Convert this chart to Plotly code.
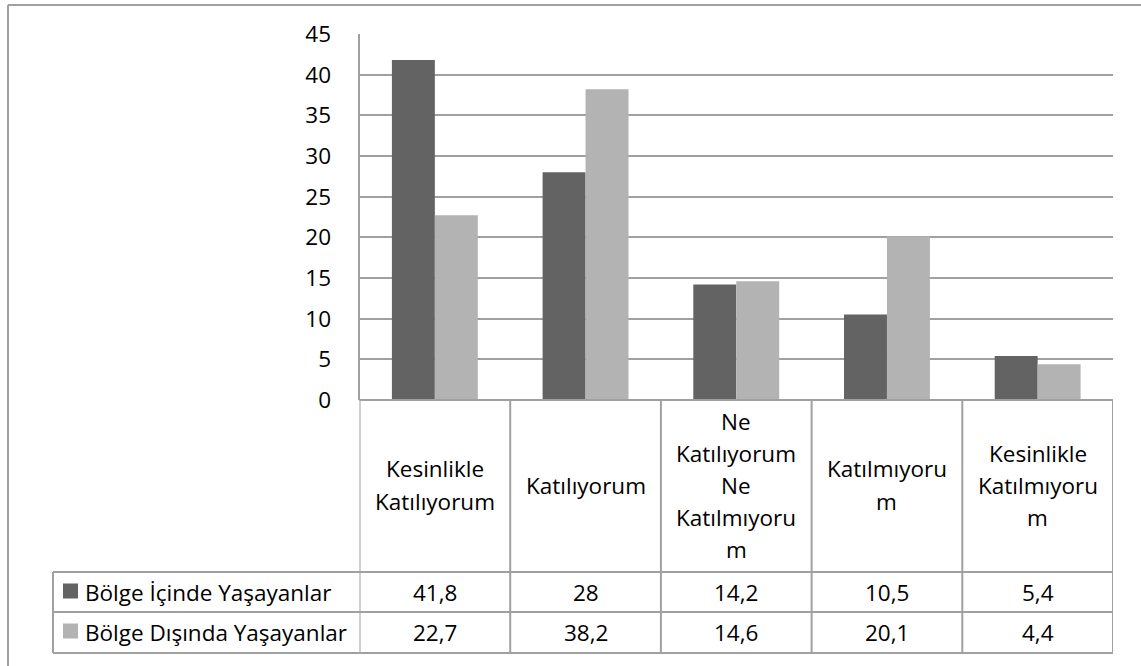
import plotly.graph_objects as go

# ---- data ----
categories = ["Kesinlikle Katılıyorum", "Katılıyorum", "Ne Katılıyorum Ne Katılmıyorum",
              "Katılmıyorum", "Kesinlikle Katılmıyorum"]
category_labels = ["Kesinlikle<br>Katılıyorum", "Katılıyorum",
                   "Ne<br>Katılıyorum<br>Ne<br>Katılmıyoru<br>m",
                   "Katılmıyoru<br>m", "Kesinlikle<br>Katılmıyoru<br>m"]
series_names = ["Bölge İçinde Yaşayanlar", "Bölge Dışında Yaşayanlar"]
inside_values = [41.8, 28, 14.2, 10.5, 5.4]
outside_values = [22.7, 38.2, 14.6, 20.1, 4.4]
inside_text = ["41,8", "28", "14,2", "10,5", "5,4"]
outside_text = ["22,7", "38,2", "14,6", "20,1", "4,4"]
y_ticks = [0, 5, 10, 15, 20, 25, 30, 35, 40, 45]

# ---- styling ----
W, H = 1141, 666
FONT = "Open Sans"
FS = 22.5
DARK = "#636363"
LIGHT = "#b3b3b3"
LINE = "#a0a0a0"


def px(x):
    return x / W


def py(y):
    return 1 - y / H


fig = go.Figure()
fig.add_trace(go.Bar(x=categories, y=inside_values, name=series_names[0],
                     marker=dict(color=DARK, line=dict(width=0)), hoverinfo="skip"))
fig.add_trace(go.Bar(x=categories, y=outside_values, name=series_names[1],
                     marker=dict(color=LIGHT, line=dict(width=0)), hoverinfo="skip"))

shapes = []


def hline(y, x0, x1):
    shapes.append(dict(type="line", xref="paper", yref="paper", x0=px(x0), x1=px(x1),
                       y0=py(y), y1=py(y), line=dict(color=LINE, width=2)))


# outer chart border (top and left)
shapes.append(dict(type="line", xref="paper", yref="paper", x0=px(8), x1=1.01,
                   y0=py(5), y1=py(5), line=dict(color=LINE, width=2)))
shapes.append(dict(type="line", xref="paper", yref="paper", x0=px(8), x1=px(8),
                   y0=py(5), y1=-0.01, line=dict(color=LINE, width=2)))

# table horizontal lines
hline(400, 359.5, 1113)
hline(572, 53, 1113)
hline(612, 53, 1113)
hline(653, 53, 1113)
# table vertical lines at category boundaries (axis coordinates)
for i in range(len(categories) + 1):
    shapes.append(dict(type="line", xref="x", yref="paper", x0=i - 0.5, x1=i - 0.5,
                       y0=py(400), y1=py(653), line=dict(color=LINE, width=2)))
# legend column left edge
shapes.append(dict(type="line", xref="paper", yref="paper", x0=px(53), x1=px(53),
                   y0=py(572), y1=py(653), line=dict(color=LINE, width=2)))
# legend keys
for yc, col in [(591, DARK), (631, LIGHT)]:
    shapes.append(dict(type="rect", xref="paper", yref="paper", x0=px(63), x1=px(78),
                       y0=py(yc - 7.5), y1=py(yc + 7.5), fillcolor=col, line=dict(width=0)))

annotations = []
# header row: category labels, line spacing 32px, centred around y=485
for i, lab in enumerate(category_labels):
    lines = lab.split("<br>")
    n = len(lines)
    for j, t in enumerate(lines):
        yc = 485 + (j - (n - 1) / 2) * 32
        annotations.append(dict(x=categories[i], xref="x", y=py(yc), yref="paper",
                                text=t, showarrow=False, xanchor="center", yanchor="middle",
                                font=dict(family=FONT, size=FS, color="#000")))
# data rows
for row_y, vals in [(592, inside_text), (632, outside_text)]:
    for i, t in enumerate(vals):
        annotations.append(dict(x=categories[i], xref="x", y=py(row_y), yref="paper",
                                text=t, showarrow=False, xanchor="center", yanchor="middle",
                                font=dict(family=FONT, size=FS, color="#000")))
# legend labels
for row_y, name in [(592, series_names[0]), (632, series_names[1])]:
    annotations.append(dict(x=px(83), xref="paper", y=py(row_y), yref="paper",
                            text=name, showarrow=False, xanchor="left", yanchor="middle",
                            font=dict(family=FONT, size=FS, color="#000")))

fig.update_layout(
    width=W, height=H,
    margin=dict(l=0, r=0, t=0, b=0, pad=0, autoexpand=False),
    paper_bgcolor="white", plot_bgcolor="white",
    showlegend=False,
    barmode="group", bargap=0.43, bargroupgap=0,
    font=dict(family=FONT, size=FS, color="#000"),
    xaxis=dict(domain=[px(359.5), px(1113)], range=[-0.5, 4.5], showticklabels=False,
               showgrid=False, zeroline=False, showline=False, fixedrange=True,
               automargin=False),
    yaxis=dict(domain=[py(400), py(34)], range=[0, 45], tickvals=y_ticks,
               showgrid=True, gridcolor=LINE, gridwidth=1.5, zeroline=False,
               showline=True, linecolor=LINE, linewidth=2, ticks="",
               ticklabelstandoff=22, tickfont=dict(family=FONT, size=FS, color="#000"),
               fixedrange=True, automargin=False),
    shapes=shapes,
    annotations=annotations,
)

fig.write_html("out.html", config={"displayModeBar": False},
               post_script="document.body.style.margin='0';")
